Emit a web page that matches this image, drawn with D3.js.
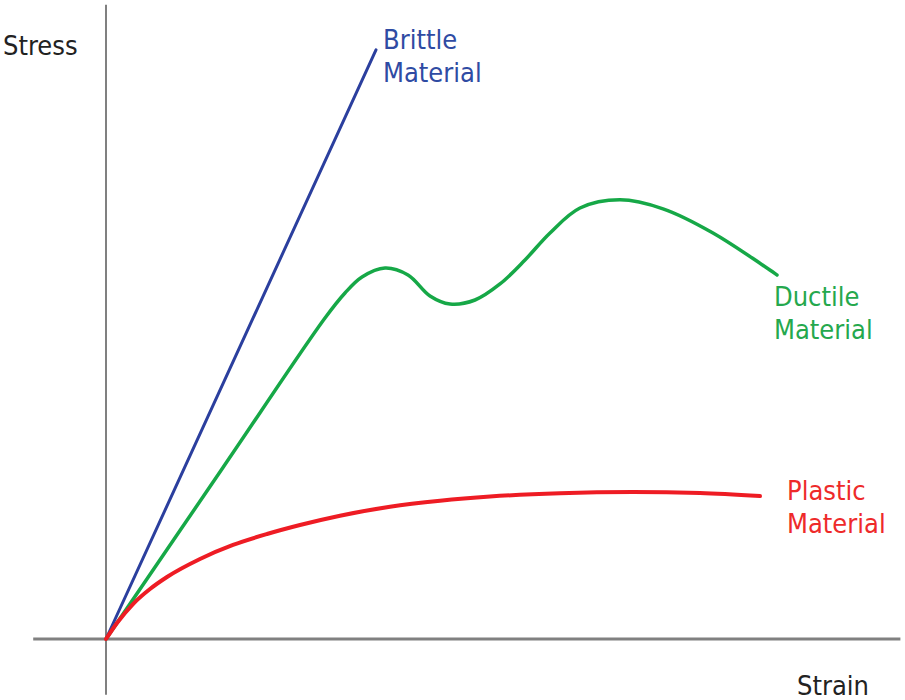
<!DOCTYPE html>
<html>
<head>
<meta charset="utf-8">
<script src="https://cdn.jsdelivr.net/npm/d3@7"></script>
<style>
  html, body { margin: 0; padding: 0; background: #fff; }
  svg { display: block; }
  text { font-family: "DejaVu Sans Condensed", "DejaVu Sans", sans-serif; font-size: 27px; }
</style>
</head>
<body>
<svg id="chart" width="905" height="700"></svg>
<script>
// ---- data (strain, stress in arbitrary units) ----
const brittleStrain = [0, 33.75];
const brittleStress = [0, 98.2];

const ductileStrain = [0, 14.625, 27.375, 29.875, 32, 34.875, 37.75, 40.5, 43, 46.125, 49.25, 52.375, 55.5, 59.25, 64.25, 69.625, 75.875, 83.875];
const ductileStress = [0, 28.58, 53.5, 57.67, 60.33, 61.83, 60.67, 57.17, 55.83, 56.5, 59.17, 63.17, 67.67, 71.83, 73.2, 71.7, 67.67, 60.67];

const plasticStrain = [0, 1.375, 3.375, 5.5, 7.625, 11.75, 15.875, 20.125, 24.25, 29.25, 35.5, 41.75, 48, 56.75, 65.875, 74.25, 81.75];
const plasticStress = [0, 2.67, 5.83, 8.33, 10.33, 13.33, 15.67, 17.5, 19.0, 20.55, 22.05, 23.05, 23.75, 24.3, 24.5, 24.33, 23.83];

const seriesNames = ["Brittle Material", "Ductile Material", "Plastic Material"];
const axisTitles = ["Strain", "Stress"];

// ---- layout ----
const x = d3.scaleLinear().domain([0, 100]).range([106, 906]);
const y = d3.scaleLinear().domain([0, 100]).range([639, 39]);

const svg = d3.select("#chart");

// axes
svg.append("line")
  .attr("x1", x(-9.1)).attr("x2", x(99.3))
  .attr("y1", y(0)).attr("y2", y(0))
  .attr("stroke", "#808080").attr("stroke-width", 3);
svg.append("line")
  .attr("x1", x(0)).attr("x2", x(0))
  .attr("y1", y(-9.3)).attr("y2", y(105.7))
  .attr("stroke", "#808080").attr("stroke-width", 2);

const zip = (a, b) => a.map((v, i) => [v, b[i]]);
const line = d3.line().x(d => x(d[0])).y(d => y(d[1]));

const series = [
  { name: seriesNames[0], pts: zip(brittleStrain, brittleStress), color: "#2b3f9e", w: 3, curve: d3.curveLinear,
    label: { x: 383, y: 49, color: "#2f4ba3" } },
  { name: seriesNames[1], pts: zip(ductileStrain, ductileStress), color: "#16a847", w: 3.5, curve: d3.curveCatmullRom.alpha(0.5),
    label: { x: 774, y: 306, color: "#25a84d" } },
  { name: seriesNames[2], pts: zip(plasticStrain, plasticStress), color: "#ee1c24", w: 4, curve: d3.curveMonotoneX,
    label: { x: 787, y: 500, color: "#ee2a2a" } }
];

series.forEach(s => {
  svg.append("path")
    .attr("d", line.curve(s.curve)(s.pts))
    .attr("fill", "none")
    .attr("stroke", s.color)
    .attr("stroke-width", s.w)
    .attr("stroke-linecap", "round")
    .attr("stroke-linejoin", "round");
  const words = s.name.split(" ");
  const t = svg.append("text")
    .attr("x", s.label.x).attr("y", s.label.y)
    .attr("fill", s.label.color);
  words.forEach((w, i) => {
    t.append("tspan").attr("x", s.label.x).attr("dy", i === 0 ? 0 : 33).text(w);
  });
});

// axis titles
svg.append("text").attr("x", 797).attr("y", 695).attr("fill", "#222").text(axisTitles[0]);
svg.append("text").attr("x", 3).attr("y", 55).attr("fill", "#222").text(axisTitles[1]);
</script>
</body>
</html>
